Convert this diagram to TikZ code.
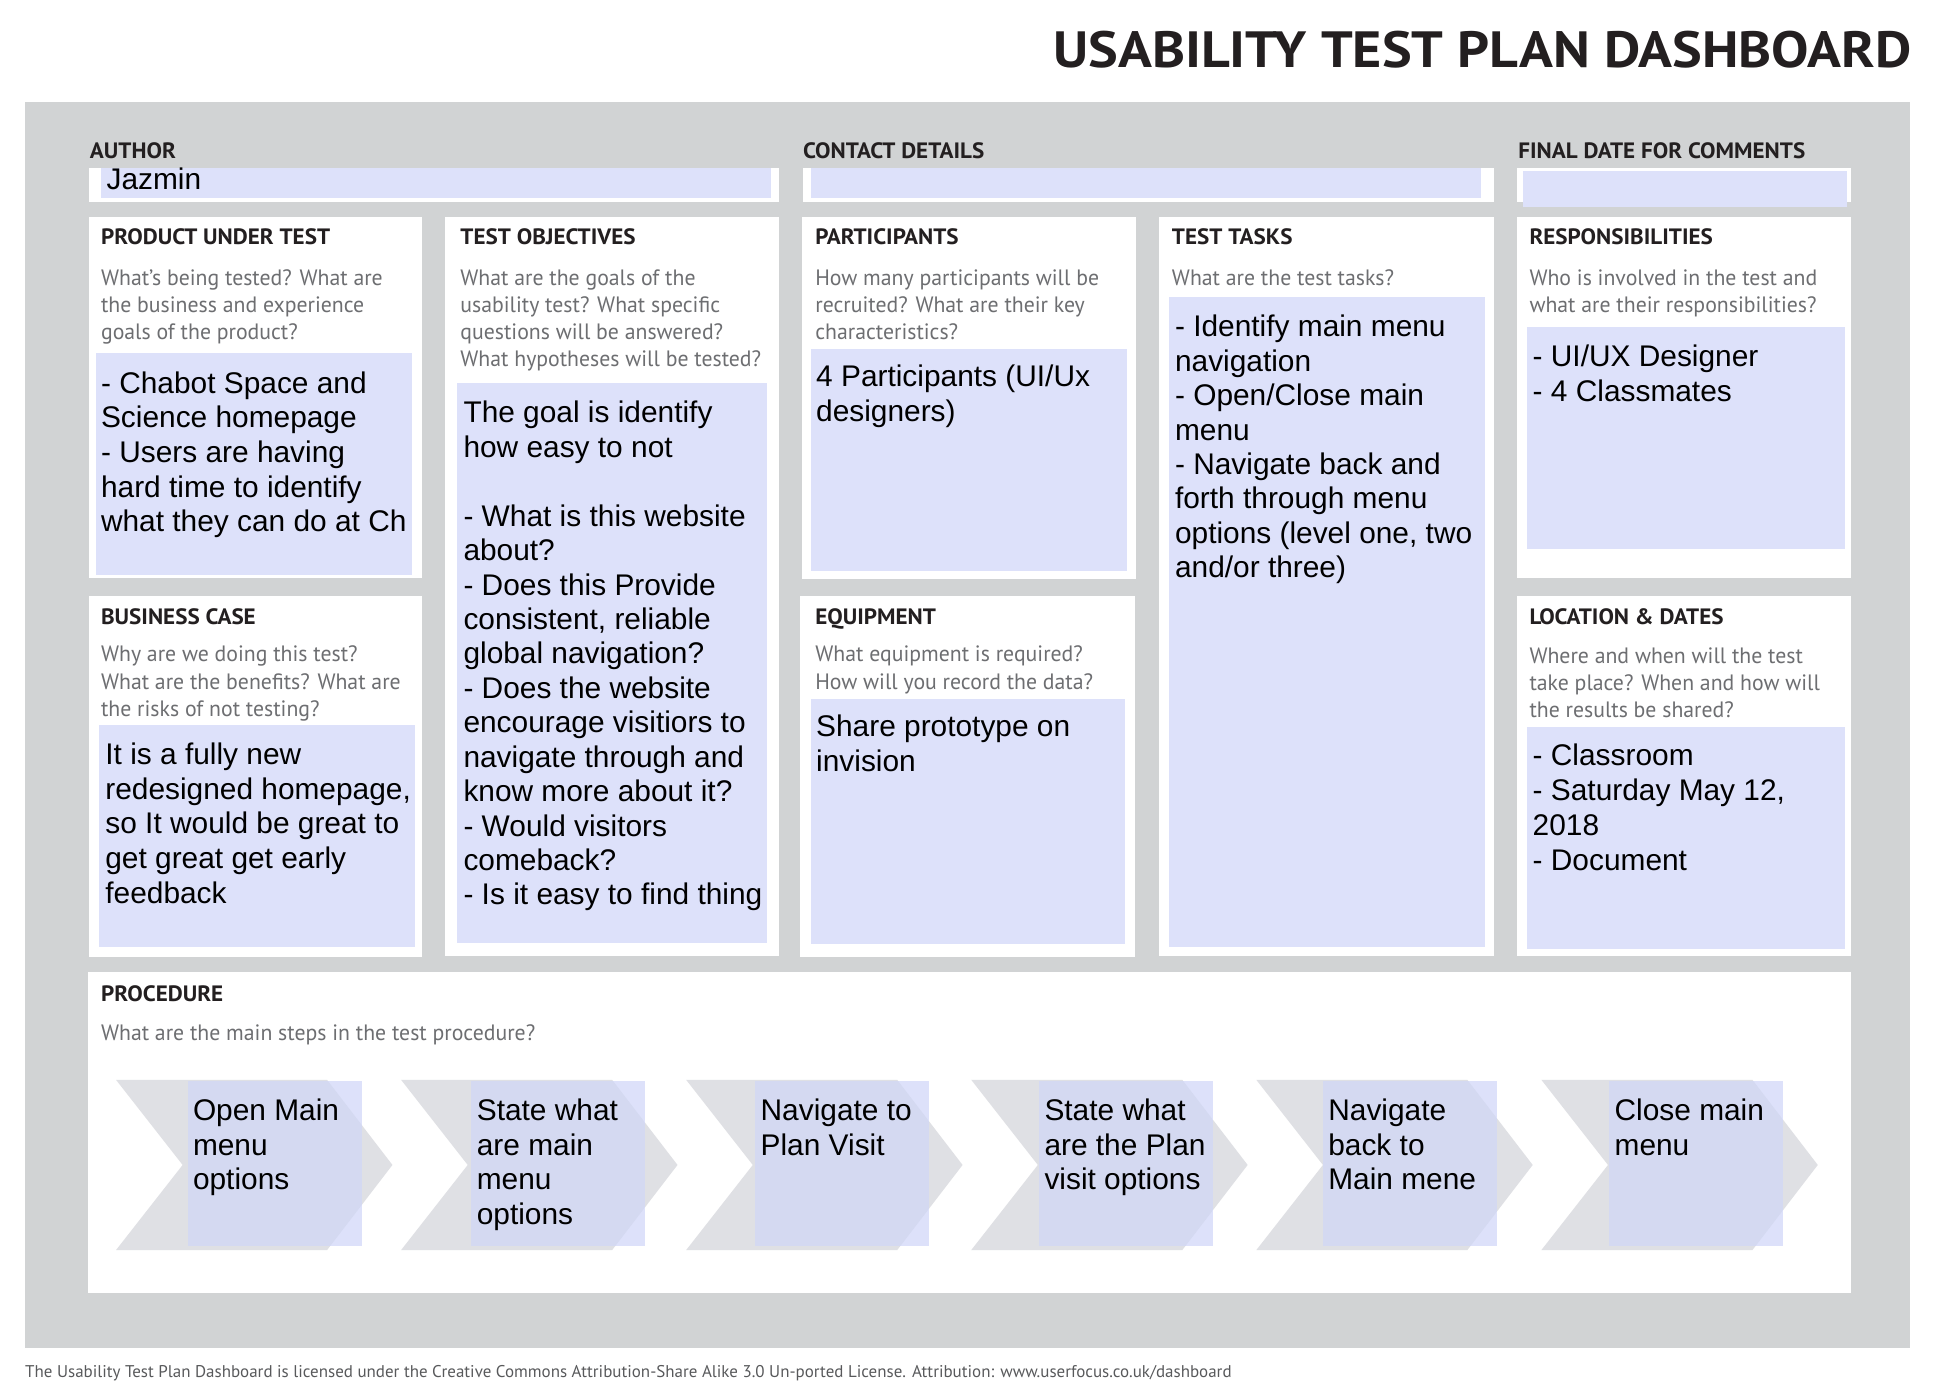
\documentclass[tikz,border=0pt]{standalone}
\usepackage{fontspec}
\usepackage{graphicx}
\setmainfont{Liberation Sans}
\newfontfamily\myr{PT Sans}
\newfontfamily\myrh[FakeStretch=1.04]{PT Sans}
\newfontfamily\myrq[FakeStretch=0.98]{PT Sans}
\definecolor{panelc}{HTML}{D1D3D4}
\definecolor{boxc}{HTML}{DDE1FA}
\definecolor{hdrc}{HTML}{231F20}
\definecolor{qc}{HTML}{6D6E71}
\definecolor{chevc}{HTML}{DFE0E4}
\definecolor{overc}{HTML}{D4D9F1}
\definecolor{footc}{HTML}{58595B}
\newcommand\tlines[6]{\foreach \t [count=\i] in {#6} {\node[#2, anchor=base west, name=#1\i] at (#3, {#4+(\i-1)*#5}) {\t};}}
\begin{document}
\begin{tikzpicture}[x=0.5pt,y=-0.5pt,
  hdr/.style={font=\myrh\bfseries\fontsize{9}{11}\selectfont, text=hdrc, inner sep=0pt},
  qst/.style={font=\myrq\fontsize{9}{11}\selectfont, text=qc, inner sep=0pt},
  bd/.style={font=\fontsize{12.1}{14}\selectfont, text=black, inner sep=0pt},
  card/.style={fill=white},
  note/.style={fill=boxc}]
\useasboundingbox (0,0) rectangle (1568,1129.6);
% title
\node[anchor=base east, inner sep=0pt, text=hdrc] (title) at (1549.5,54.3)
  {\resizebox{347.75pt}{14.75pt}{\myr\bfseries USABILITY TEST PLAN DASHBOARD}};
% panel
\fill[panelc] (20,83) rectangle (1547.7,1092.6);
% top fields
\fill[card] (72,136) rectangle (631,163.4);
\fill[note] (81.5,136) rectangle (624.8,160.6);
\fill[card] (650.3,136) rectangle (1210.7,163.4);
\fill[note] (656.8,136) rectangle (1200.2,160.6);
\fill[card] (1229,136) rectangle (1500,163.4);
\fill[note] (1234,138.6) rectangle (1497,167.4);
\node[hdr, anchor=base west] (lauthor) at (72.5,128.7) {AUTHOR};
\node[hdr, anchor=base west] (lcontact) at (650.3,128.7) {CONTACT DETAILS};
\node[hdr, anchor=base west] (lfinal) at (1230,128.7) {FINAL DATE FOR COMMENTS};
\node[bd, anchor=base west] (author) at (86,153.5) {Jazmin};
% cards
\fill[card] (72,176) rectangle (342,468.3);
\fill[note] (77.5,286.2) rectangle (334.2,465.8);
\fill[card] (360.7,176) rectangle (631.3,774.7);
\fill[note] (370.7,310.4) rectangle (621.3,763.9);
\fill[card] (650,176) rectangle (920.3,468.9);
\fill[note] (656.8,282.8) rectangle (913.3,462.7);
\fill[card] (939.3,176) rectangle (1210.7,774.4);
\fill[note] (947.3,240.3) rectangle (1203.2,767.1);
\fill[card] (1229,176) rectangle (1500,468.3);
\fill[note] (1237.1,265.1) rectangle (1495,445);
\fill[card] (72,483) rectangle (342,775.2);
\fill[note] (80,587.5) rectangle (336.1,767.1);
\fill[card] (648.3,483) rectangle (919.8,775.2);
\fill[note] (656.8,566.4) rectangle (912,765.2);
\fill[card] (1229,483) rectangle (1500,774.4);
\fill[note] (1237,589.1) rectangle (1495,768.7);
\fill[card] (71.5,787.6) rectangle (1500,1048);
% headers
\node[hdr, anchor=base west] (hprod) at (81.5,198.5) {PRODUCT UNDER TEST};
\node[hdr, anchor=base west] (hobj) at (372.7,198.5) {TEST OBJECTIVES};
\node[hdr, anchor=base west] (hpart) at (660.3,198.5) {PARTICIPANTS};
\node[hdr, anchor=base west] (htask) at (949.3,198.5) {TEST TASKS};
\node[hdr, anchor=base west] (hresp) at (1239,198.5) {RESPONSIBILITIES};
\node[hdr, anchor=base west] (hbus) at (81.5,505.9) {BUSINESS CASE};
\node[hdr, anchor=base west] (hequip) at (660.3,505.9) {EQUIPMENT};
\node[hdr, anchor=base west] (hloc) at (1239,505.9) {LOCATION \& DATES};
\node[hdr, anchor=base west] (hproc) at (81.5,811.7) {PROCEDURE};
% questions
\tlines{qprod}{qst}{81.5}{231}{22}{What’s being tested? What are, the business and experience, goals of the product?}
\tlines{qobj}{qst}{372.7}{231}{22}{What are the goals of the, usability test? What specific, questions will be answered?, What hypotheses will be tested?}
\tlines{qpart}{qst}{660.3}{231}{22}{How many participants will be, recruited? What are their key, characteristics?}
\tlines{qtask}{qst}{949.3}{231}{22}{What are the test tasks?}
\tlines{qresp}{qst}{1239}{231}{22}{Who is involved in the test and, what are their responsibilities?}
\tlines{qbus}{qst}{81.5}{536.2}{22.3}{Why are we doing this test?, What are the benefits? What are, the risks of not testing?}
\tlines{qequip}{qst}{660.3}{536.2}{22.3}{What equipment is required?, How will you record the data?}
\tlines{qloc}{qst}{1239}{537.5}{22}{Where and when will the test, take place? When and how will, the results be shared?}
\node[qst, anchor=base west] (qproc) at (81.5,843) {What are the main steps in the test procedure?};
% body texts
\tlines{tprod}{bd}{81.5}{318.8}{28}{- Chabot Space and, Science homepage, - Users are having, hard time to identify, what they can do at Ch}
\tlines{tobj}{bd}{375.2}{342.7}{27.9}{The goal is identify, how easy to not, {}, - What is this website, about?, - Does this Provide, {consistent, reliable}, global navigation?, - Does the website, encourage visitiors to, navigate through and, know more about it?, - Would visitors, comeback?, - Is it easy to find thing}
\tlines{tpart}{bd}{661}{313.2}{28}{4 Participants (UI/Ux, designers)}
\tlines{ttask}{bd}{951.8}{272.9}{27.9}{- Identify main menu, navigation, - Open/Close main, menu, - Navigate back and, forth through menu, {options (level one, two}, and/or three)}
\tlines{tresp}{bd}{1241.6}{297}{28}{- UI/UX Designer, - 4 Classmates}
\tlines{tbus}{bd}{85}{619.3}{28.2}{It is a fully new, {redesigned homepage,}, so It would be great to, get great get early, feedback}
\tlines{tequip}{bd}{661}{597}{28.3}{Share prototype on, invision}
\tlines{tloc}{bd}{1241.6}{620.7}{28.1}{- Classroom, {- Saturday May 12,}, 2018, - Document}
% chevrons
\foreach \L/\B in {94/152, 325/382, 556/612, 787/842, 1018/1072, 1249/1304} {
  \fill[chevc] (\L,875) -- (\L+171,875) -- (\L+224,944) -- (\L+171,1013) -- (\L,1013) -- (\L+54,944) -- cycle;
  \fill[boxc] (\B,876) rectangle (\B+141,1010);
  \begin{scope}
    \clip (\L,875) -- (\L+171,875) -- (\L+224,944) -- (\L+171,1013) -- (\L,1013) -- (\L+54,944) -- cycle;
    \fill[overc] (\B,876) rectangle (\B+141,1010);
  \end{scope}
}
\tlines{s1-}{bd}{156}{908}{28}{Open Main, menu, options}
\tlines{s2-}{bd}{386}{908}{28}{State what, are main, menu, options}
\tlines{s3-}{bd}{616}{908}{28}{Navigate to, Plan Visit}
\tlines{s4-}{bd}{846}{908}{28}{State what, are the Plan, visit options}
\tlines{s5-}{bd}{1076}{908}{28}{Navigate, back to, Main mene}
\tlines{s6-}{bd}{1308}{908}{28}{Close main, menu}
% footer
\node[anchor=base west, inner sep=0pt, text=footc] (foot) at (20,1116.4)
  {\resizebox{488.8pt}{!}{\myr The Usability Test Plan Dashboard is licensed under the Creative Commons Attribution-Share Alike 3.0 Un-ported License. Attribution: www.userfocus.co.uk/dashboard}};
\end{tikzpicture}
\end{document}
